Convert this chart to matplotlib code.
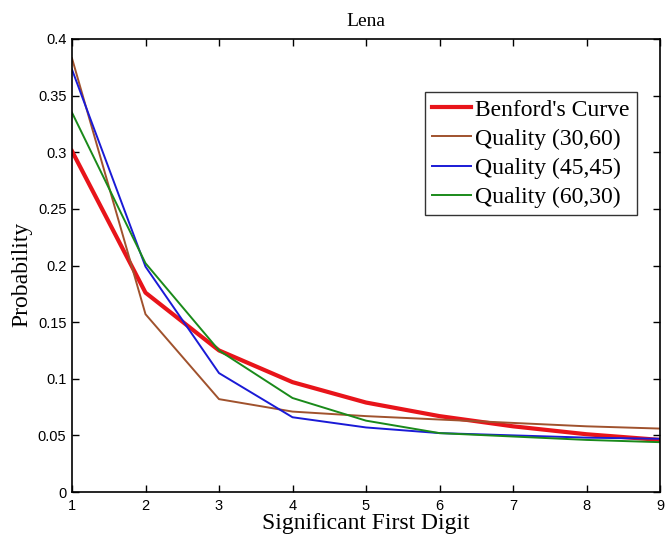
import numpy as np
import matplotlib
matplotlib.use("Agg")
import matplotlib.pyplot as plt

digits = [1, 2, 3, 4, 5, 6, 7, 8, 9]
benford = [0.301, 0.176, 0.125, 0.097, 0.079, 0.067, 0.058, 0.051, 0.046]
quality_30_60 = [0.383, 0.157, 0.082, 0.071, 0.067, 0.064, 0.061, 0.058, 0.056]
quality_45_45 = [0.373, 0.199, 0.105, 0.066, 0.057, 0.052, 0.050, 0.048, 0.047]
quality_60_30 = [0.335, 0.202, 0.125, 0.083, 0.063, 0.052, 0.049, 0.046, 0.044]

y_ticks = [0, 0.05, 0.1, 0.15, 0.2, 0.25, 0.3, 0.35, 0.4]
y_tick_labels = ["0", "0.05", "0.1", "0.15", "0.2", "0.25", "0.3", "0.35", "0.4"]

serif = ["Liberation Serif", "DejaVu Serif"]
sans = ["Liberation Sans", "DejaVu Sans"]

fig = plt.figure(figsize=(6.65, 5.42), dpi=100)
ax = fig.add_axes([72 / 665, 1 - 492 / 542, (660 - 72) / 665, (492 - 39) / 542])

ax.plot(digits, benford, color="#e8141a", lw=3.0, label="Benford's Curve")
ax.plot(digits, quality_30_60, color="#a0522d", lw=1.4, label="Quality (30,60)")
ax.plot(digits, quality_45_45, color="#1a1ad6", lw=1.4, label="Quality (45,45)")
ax.plot(digits, quality_60_30, color="#1a8a1a", lw=1.4, label="Quality (60,30)")

ax.set_xlim(1, 9)
ax.set_ylim(0, 0.4)
ax.set_xticks(digits)
ax.set_yticks(y_ticks)
ax.set_yticklabels(y_tick_labels)
ax.tick_params(direction="in", top=True, right=True, length=5, width=1.0,
               labelsize=10.5, pad=4)
ax.tick_params(axis="x", pad=5)
for lbl in ax.get_xticklabels() + ax.get_yticklabels():
    lbl.set_family(sans)
for sp in ax.spines.values():
    sp.set_linewidth(1.2)

ax.set_title("Lena", family=serif, fontsize=14, pad=9)
ax.set_xlabel("Significant First Digit", family=serif, fontsize=17, labelpad=0)
ax.set_ylabel("Probability", family=serif, fontsize=17)
ax.yaxis.set_label_coords(-0.068, 0.48)

leg = ax.legend(loc="upper right", bbox_to_anchor=(0.961, 0.883),
                prop={"family": serif, "size": 17}, frameon=True,
                fancybox=False, edgecolor="black", handlelength=1.65,
                handletextpad=0.2, borderpad=0.3, labelspacing=0.32,
                borderaxespad=0)
leg.get_frame().set_linewidth(1.0)

fig.savefig("out.png", dpi=100)
